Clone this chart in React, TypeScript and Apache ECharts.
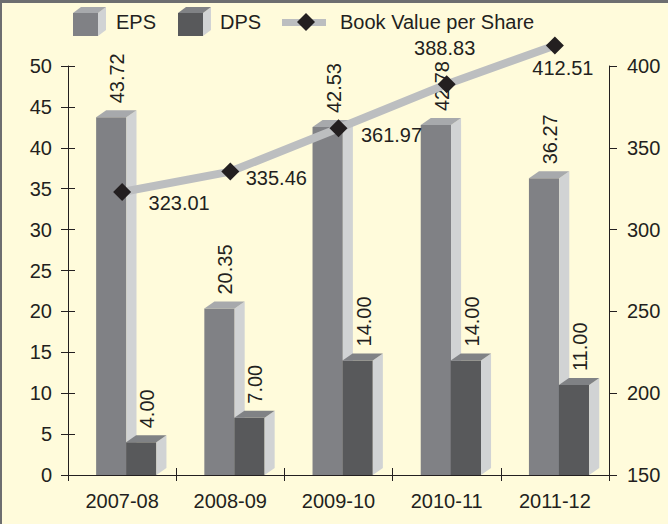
import React, { useEffect, useRef } from "react";
import * as echarts from "echarts";

const categories = ["2007-08", "2008-09", "2009-10", "2010-11", "2011-12"];
const epsValues = [43.72, 20.35, 42.53, 42.78, 36.27];
const dpsValues = [4.0, 7.0, 14.0, 14.0, 11.0];
const bookValues = [323.01, 335.46, 361.97, 388.83, 412.51];
const bookLabelOffsets = [
  [57, 11],
  [46, 6],
  [53, 7],
  [-2, -36],
  [8, 22],
];
const leftTicks = { min: 0, max: 50, interval: 5 };
const rightTicks = { min: 150, max: 400, interval: 50 };

const FONT = "'Liberation Sans', Arial, Helvetica, sans-serif";
const FS = 20;
const TEXT = "#231f20";
const BG = "#fffbdb";

function bar3D(offsetFrac: number, front: string, side: string, top: string) {
  return (params: any, api: any) => {
    const i = api.value(0);
    const v = api.value(1);
    const c0 = api.coord([i, 0]);
    const c1 = api.coord([i, v]);
    const band = api.size([1, 0])[0];
    const w = band * 0.28;
    const d = band * 0.093;
    const h = 7;
    const x0 = c0[0] + band * offsetFrac;
    const yb = c0[1];
    const yt = c1[1];
    return {
      type: "group",
      children: [
        { type: "rect", shape: { x: x0, y: yt, width: w, height: yb - yt }, style: { fill: front } },
        {
          type: "polygon",
          shape: { points: [[x0 + w, yt], [x0 + w + d, yt - h], [x0 + w + d, yb - h], [x0 + w, yb]] },
          style: { fill: side },
        },
        {
          type: "polygon",
          shape: { points: [[x0, yt], [x0 + d, yt - h], [x0 + w + d, yt - h], [x0 + w, yt]] },
          style: { fill: top },
        },
        {
          type: "text",
          x: x0 + w / 2 + 6,
          y: yt - h - 7,
          rotation: Math.PI / 2,
          style: {
            text: Number(v).toFixed(2),
            fontSize: FS,
            fontFamily: FONT,
            fill: TEXT,
            align: "left",
            verticalAlign: "middle",
          },
        },
      ],
    };
  };
}

function legendBox(x: number, front: string, top: string) {
  const y = 13, w = 25, hgt = 23, d = 8, h = 6;
  return [
    { type: "rect", shape: { x, y, width: w, height: hgt }, style: { fill: front } },
    {
      type: "polygon",
      shape: { points: [[x + w, y], [x + w + d, y - h], [x + w + d, y + hgt - h], [x + w, y + hgt]] },
      style: { fill: "#d1d3d4" },
    },
    {
      type: "polygon",
      shape: { points: [[x, y], [x + d, y - h], [x + w + d, y - h], [x + w, y]] },
      style: { fill: top },
    },
  ];
}

export default function App() {
  const ref = useRef<HTMLDivElement>(null);
  useEffect(() => {
    document.body.style.margin = "0";
    const chart = echarts.init(ref.current!, null, { renderer: "svg" });
    const axisLine = { show: true, lineStyle: { color: TEXT, width: 1 } };
    const label = { color: TEXT, fontSize: FS, fontFamily: FONT };
    chart.setOption({
      animation: false,
      backgroundColor: BG,
      grid: { left: 68, right: 59, top: 66, bottom: 49 },
      xAxis: [
        {
          type: "category",
          data: categories,
          position: "bottom",
          axisLine,
          axisTick: { show: true, length: 6, lineStyle: { color: TEXT } },
          axisLabel: { ...label, margin: 16 },
        },
        {
          type: "category",
          data: categories,
          position: "bottom",
          axisLine: { show: false },
          axisTick: { show: true, inside: true, length: 7, lineStyle: { color: TEXT } },
          axisLabel: { show: false },
        },
      ],
      yAxis: [
        {
          type: "value",
          position: "left",
          ...leftTicks,
          axisLine,
          axisTick: { show: true, length: 7, lineStyle: { color: TEXT } },
          axisLabel: { ...label, margin: 16 },
          splitLine: { show: false },
        },
        {
          type: "value",
          position: "right",
          ...rightTicks,
          axisLine,
          axisTick: { show: true, length: 8, lineStyle: { color: TEXT } },
          axisLabel: { ...label, margin: 18 },
          splitLine: { show: false },
        },
        {
          type: "value",
          position: "left",
          ...leftTicks,
          axisLine: { show: false },
          axisTick: { show: true, inside: true, length: 7, lineStyle: { color: TEXT } },
          axisLabel: { show: false },
          splitLine: { show: false },
        },
      ],
      series: [
        {
          name: "EPS",
          type: "custom",
          xAxisIndex: 0,
          yAxisIndex: 0,
          z: 2,
          renderItem: bar3D(-0.24, "#808185", "#d1d3d4", "#a7a9ac"),
          encode: { x: 0, y: 1 },
          data: epsValues.map((v, i) => [i, v]),
        },
        {
          name: "DPS",
          type: "custom",
          xAxisIndex: 0,
          yAxisIndex: 0,
          z: 2,
          renderItem: bar3D(0.037, "#58595b", "#d1d3d4", "#808285"),
          encode: { x: 0, y: 1 },
          data: dpsValues.map((v, i) => [i, v]),
        },
        {
          name: "Book Value per Share",
          type: "line",
          xAxisIndex: 0,
          yAxisIndex: 1,
          z: 5,
          clip: false,
          symbol: "diamond",
          symbolSize: 18,
          lineStyle: { color: "#bcbec0", width: 8 },
          itemStyle: { color: TEXT },
          label: {
            show: true,
            position: "inside",
            color: TEXT,
            fontSize: FS,
            fontFamily: FONT,
            formatter: (p: any) => Number(p.value).toFixed(2),
          },
          data: bookValues.map((v, i) => ({
            value: v,
            label: { offset: bookLabelOffsets[i] },
          })),
        },
      ],
      graphic: [
        { type: "rect", shape: { x: 0, y: 0, width: 668, height: 3 }, style: { fill: "#6d6e70" }, z: 100 },
        { type: "rect", shape: { x: 0, y: 0, width: 2, height: 524 }, style: { fill: "#6d6e70" }, z: 100 },
        ...legendBox(73, "#808185", "#a7a9ac"),
        { type: "text", x: 116, y: 22, style: { text: "EPS", fontSize: FS, fontFamily: FONT, fill: TEXT, verticalAlign: "middle" } },
        ...legendBox(178, "#58595b", "#808285"),
        { type: "text", x: 220, y: 22, style: { text: "DPS", fontSize: FS, fontFamily: FONT, fill: TEXT, verticalAlign: "middle" } },
        { type: "rect", shape: { x: 282, y: 19, width: 44, height: 7 }, style: { fill: "#bcbec0" } },
        { type: "polygon", shape: { points: [[306, 13], [315, 22], [306, 31], [297, 22]] }, style: { fill: TEXT } },
        {
          type: "text",
          x: 340,
          y: 22,
          style: { text: "Book Value per Share", fontSize: FS, fontFamily: FONT, fill: TEXT, verticalAlign: "middle" },
        },
      ],
    });
    return () => chart.dispose();
  }, []);
  return <div ref={ref} style={{ width: 668, height: 524 }} />;
}
